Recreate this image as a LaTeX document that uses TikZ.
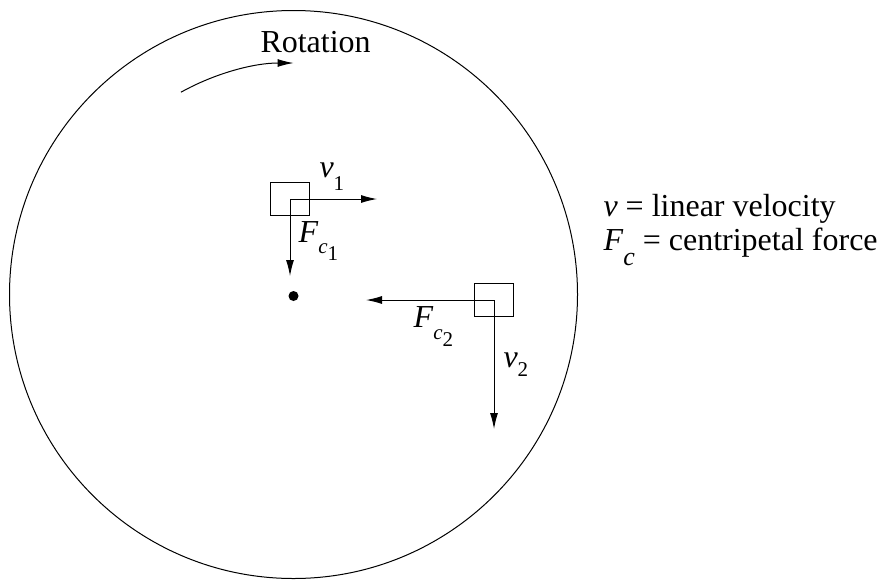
\documentclass[tikz,border=0pt]{standalone}
\usepackage{fontspec}
\setmainfont{Liberation Serif}
\usetikzlibrary{arrows.meta,positioning}

\newcommand{\lowsub}[2][10pt]{\raisebox{-#1}{\fontsize{21}{24}\selectfont #2}}

\begin{document}
\begin{tikzpicture}[x=1pt,y=-1pt,line width=1pt,
  font=\fontsize{32}{38}\selectfont,
  >={Latex[length=16pt,width=8pt]},
  mass/.style={draw,rectangle,inner sep=0pt,minimum width=39pt,minimum height=33pt},
  hubdot/.style={circle,fill,inner sep=0pt,minimum size=10pt},
  lbl/.style={anchor=base west,inner sep=0pt}]
\useasboundingbox (0,0) rectangle (880,579);

% disk and its centre
\node [hubdot] (hub) at (293.5,296) {};
\draw (293.5,294.5) circle [radius=284];

% sense of rotation
\draw [->] (293.5,294.5) ++(-119.1:231.5) arc [start angle=-119.1,end angle=-90,radius=231.5];
\node [lbl] (rot) at (260,52) {Rotation};

% first mass
\node [mass] (m1) at (290,199) {};
\coordinate (v1end) at (377,199);
\coordinate (f1end) at (290,276);
\draw [->] (m1.center) -- (v1end);
\draw [->] (m1.center) -- (f1end);
\node [lbl] (v1) at (319,177) {\textit{v}\lowsub[13pt]{1}};
\node [lbl] (f1) at (298,242) {\textit{F}\lowsub[11pt]{\textit{c}\lowsub[7pt]{1}}};

% second mass
\node [mass] (m2) at (494,300) {};
\coordinate (f2end) at (366,300);
\coordinate (v2end) at (494,429);
\draw [->] (m2.center) -- (f2end);
\draw [->] (m2.center) -- (v2end);
\node [lbl] (f2) at (413,327) {\textit{F}\lowsub[12pt]{\textit{c}\lowsub[7pt]{2}}};
\node [lbl] (v2) at (503,367) {\textit{v}\lowsub[9pt]{2}};

% legend
\node [lbl] (keyv) at (603,216) {\textit{v} = linear velocity};
\node [lbl] (keyf) at (603,250) {\textit{F}\raisebox{-15pt}{\fontsize{26}{30}\selectfont\textit{c}} = centripetal force};
\end{tikzpicture}
\end{document}
